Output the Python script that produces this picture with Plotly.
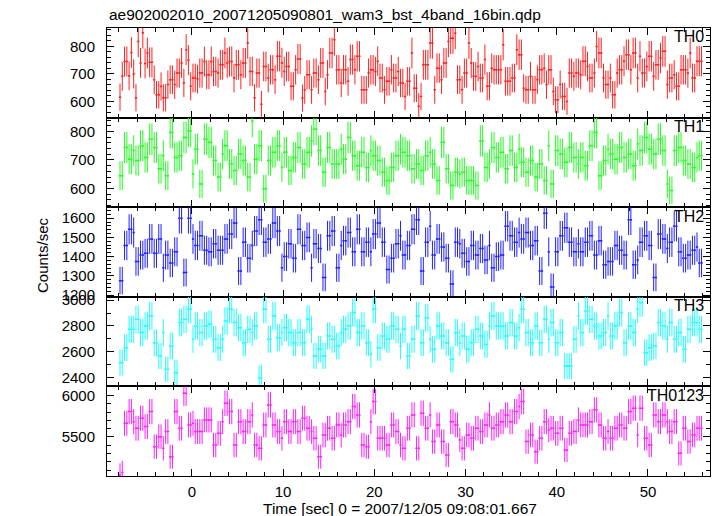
import numpy as np
import plotly.graph_objects as go

# ---------------- data ----------------
TITLE = "ae902002010_20071205090801_wam3_bst_4band_16bin.qdp"
X_TITLE = "Time [sec] 0 = 2007/12/05 09:08:01.667"
Y_TITLE = "Counts/sec"
TIME_START = -7.875     # centre of first bin [s]
BIN_WIDTH = 0.25        # bin width [s]

PANEL_NAMES = ["TH0", "TH1", "TH2", "TH3", "TH0123"]

th0 = [615, 691, 745, 745, 693, 778, 700, 613, 818, 740, 850, 738, 776, 742, 742, 679, 624, 624, 654, 613,
       613, 661, 679, 679, 661, 703, 703, 740, 667, 788, 750, 655, 685, 685, 681, 703, 703, 745, 697, 697,
       745, 709, 709, 703, 733, 733, 776, 740, 745, 745, 685, 733, 733, 697, 740, 740, 812, 709, 709, 613,
       703, 703, 590, 727, 727, 685, 715, 715, 679, 764, 764, 740, 709, 727, 727, 655, 655, 715,
       754, 754, 612, 642, 697, 697, 642, 703, 703, 679, 740, 740, 636, 697, 776, 776, 824, 715, 715, 667,
       715, 715, 673, 752, 752, 715, 764, 764, 642, 642, 642, 703, 715, 715, 709, 746, 685, 685, 642, 673,
       673, 715, 685, 685, 709, 667, 667, 618, 673, 673, 776, 648, 648, 582, 618, 733, 733, 733, 812, 812,
       642, 721, 721, 679, 740, 740, 818, 830, 830, 848, 679, 679, 642, 703, 703, 812, 740, 691, 691, 727,
       685, 685, 752, 655, 655, 721, 715, 715,
       715, 715, 806, 673, 673, 673, 685, 685, 788, 770, 770, 648, 642, 642, 691, 642, 642, 679, 715, 715,
       721, 661, 715, 715, 636, 606, 606, 661, 618, 618, 600, 703, 703, 691, 703, 703, 697, 746, 746, 727,
       685, 685, 703, 800, 776, 776, 685, 661, 661, 685, 624, 624, 703, 715, 715, 746, 770, 770, 715, 776,
       776, 685, 764, 703, 703, 727, 764, 764, 691, 733, 733, 758, 782, 782, 661, 685, 685, 697, 655, 655,
       715, 715, 715, 703, 776, 685, 685, 746, 746, 746]

th1 = [645, 645, 744, 744, 703, 703, 733, 698, 698, 750, 750, 709, 709, 773, 773, 744, 744, 669, 669, 715,
       645, 645, 797, 797, 709, 709, 715, 715, 779, 779, 802, 802, 651, 738, 738, 616, 616, 773, 773, 762, 762, 698, 698, 640, 640, 721,
       750, 750, 686, 686, 663, 663, 721, 721, 698, 698, 640, 640, 837, 703, 703, 750, 750, 599, 599, 698, 698, 727, 727, 750, 750, 674,
       727, 727, 663, 663, 709, 709, 744, 744, 686, 686, 727, 727, 767, 808, 808, 733, 733, 657, 657, 744, 744, 686, 686, 686, 686, 738,
       703, 703, 779, 779, 715, 715, 680, 680, 727, 727, 674, 674, 733, 715, 715, 698, 698, 657, 657, 628, 628, 674, 674, 715, 715, 738,
       727, 727, 715, 715, 669, 669, 686, 686, 663, 663, 715, 715, 727, 686, 686, 628, 628, 762, 762, 669, 669, 610, 610, 657, 657, 651,
       657, 657, 628, 628, 628, 628, 610, 610, 767, 767, 674, 674, 686, 744, 744, 709, 709, 727, 727, 669, 669, 733, 733, 674, 674, 738,
       692, 692, 657, 657, 698, 698, 640, 640, 686, 686, 628, 628, 750, 616, 616, 733, 733, 721, 721, 692, 692, 744, 744, 709, 709, 686,
       709, 709, 680, 680, 750, 750, 797, 797, 645, 645, 698, 698, 738, 721, 721, 703, 703, 744, 744, 709, 709, 721, 721, 680, 680, 756,
       733, 733, 779, 779, 738, 738, 721, 721, 773, 773, 733, 733, 616, 593, 593, 733, 733, 744, 744, 698, 698, 686, 686, 674, 674, 709,
       715, 715]

th2 = [1275, 1275, 1458, 1458, 1542, 1542, 1525, 1375, 1375, 1408, 1408, 1417, 1417, 1492, 1492, 1417, 1417, 1492, 1492, 1342,
       1408, 1408, 1367, 1367, 1425, 1425, 1600, 1600, 1317, 1317, 1600, 1600, 1492, 1458, 1458, 1508, 1508, 1433, 1433, 1425, 1425, 1467, 1467, 1433, 1433, 1433,
       1492, 1492, 1517, 1517, 1575, 1575, 1325, 1325, 1475, 1475, 1392, 1392, 1458, 1533, 1533, 1592, 1592, 1475, 1475, 1492, 1492, 1575, 1575, 1533, 1533, 1342,
       1400, 1400, 1467, 1467, 1392, 1392, 1542, 1542, 1458, 1458, 1500, 1500, 1342, 1467, 1467, 1442, 1442, 1292, 1292, 1508, 1508, 1533, 1533, 1342, 1342, 1458,
       1483, 1483, 1525, 1525, 1425, 1425, 1542, 1542, 1425, 1425, 1475, 1475, 1425, 1517, 1517, 1575, 1575, 1475, 1475, 1333, 1333, 1392, 1392, 1467, 1467, 1508,
       1408, 1408, 1458, 1458, 1542, 1542, 1592, 1592, 1325, 1325, 1475, 1475, 1558, 1408, 1408, 1492, 1492, 1450, 1450, 1392, 1392, 1258, 1258, 1475, 1475, 1467,
       1417, 1417, 1375, 1375, 1458, 1458, 1408, 1408, 1442, 1442, 1383, 1383, 1458, 1342, 1342, 1400, 1400, 1408, 1408, 1558, 1558, 1508, 1508, 1475, 1475, 1525,
       1492, 1492, 1525, 1525, 1458, 1458, 1483, 1483, 1325, 1325, 1625, 1625, 1425, 1242, 1242, 1425, 1425, 1508, 1508, 1550, 1550, 1475, 1475, 1425, 1425, 1467,
       1425, 1425, 1475, 1475, 1508, 1508, 1408, 1408, 1483, 1483, 1358, 1358, 1375, 1375, 1375, 1458, 1458, 1433, 1433, 1408, 1408, 1592, 1592, 1358, 1358, 1383,
       1475, 1475, 1508, 1508, 1458, 1458, 1292, 1292, 1517, 1517, 1492, 1492, 1442, 1475, 1475, 1558, 1558, 1425, 1425, 1392, 1392, 1408, 1408, 1433, 1433, 1450,
       1367, 1367]

th3 = [2517, 2517, 2633, 2633, 2774, 2774, 2774, 2851, 2851, 2749, 2749, 2800, 2800, 2877, 2877, 2671, 2671, 2569, 2569, 2749,
       2466, 2466, 2646, 2646, 2440, 2440, 2826, 2826, 2851, 2851, 2929, 2929, 2697, 2800, 2800, 2749, 2749, 2800, 2800, 2813, 2813, 2697, 2697, 2633, 2633, 2697,
       2839, 2839, 2929, 2929, 2826, 2826, 2787, 2787, 2671, 2671, 2774, 2774, 2749, 2800, 2800, 2400, 2400, 2929, 2929, 2697, 2697, 2877, 2877, 2710, 2710, 2749,
       2787, 2787, 2749, 2749, 2671, 2671, 2749, 2749, 2671, 2671, 2851, 2851, 2774, 2569, 2569, 2620, 2620, 2569, 2569, 2723, 2723, 2697, 2697, 2646, 2646, 2749,
       2774, 2774, 2800, 2800, 2903, 2903, 2749, 2749, 2800, 2800, 2671, 2671, 2581, 2929, 2929, 2633, 2633, 2723, 2723, 2697, 2697, 2800, 2800, 2774, 2774, 2646,
       2774, 2774, 2569, 2569, 2697, 2697, 2877, 2877, 2671, 2671, 2864, 2864, 2697, 2620, 2620, 2800, 2800, 2723, 2723, 2671, 2671, 2543, 2543, 2749, 2749, 2671,
       2723, 2723, 2620, 2620, 2671, 2671, 2774, 2774, 2723, 2723, 2658, 2658, 2800, 2877, 2877, 2800, 2800, 2800, 2800, 2723, 2723, 2826, 2826, 2723, 2723, 2787,
       2929, 2929, 2749, 2749, 2671, 2671, 2800, 2800, 2671, 2671, 2851, 2851, 2697, 2826, 2826, 2671, 2671, 2749, 2749, 2491, 2491, 2491, 2491, 2697, 2697, 2877,
       2749, 2749, 2916, 2916, 2851, 2851, 2800, 2800, 2723, 2723, 2749, 2749, 2877, 2723, 2723, 2800, 2800, 2903, 2903, 2671, 2671, 2800, 2800, 2749, 2749, 2929,
       2980, 2980, 2594, 2594, 2633, 2633, 2646, 2646, 2826, 2826, 2800, 2800, 2697, 2826, 2826, 2697, 2697, 2749, 2749, 2620, 2620, 2774, 2774, 2826, 2826, 2826,
       2774, 2774]

th0123 = [5040, 5070, 5665, 5665, 5806, 5806, 5685, 5605, 5605, 5726, 5726, 5625, 5625, 5806, 5806, 5383, 5383, 5504, 5504, 5363,
          5565, 5565, 5262, 5262, 5806, 5806, 5605, 5605, 6028, 6028, 5645, 5645, 5665, 5565, 5565, 5565, 5565, 5706, 5706, 5706, 5706, 5403, 5403, 5544, 5544, 5685,
          5907, 5907, 5806, 5806, 5403, 5403, 5685, 5685, 5565, 5565, 5685, 5685, 5766, 5403, 5403, 5363, 5363, 5645, 5645, 5887, 5887, 5645, 5645, 5565, 5565, 5484,
          5685, 5685, 5565, 5565, 5685, 5685, 5565, 5565, 5726, 5726, 5605, 5605, 5565, 5484, 5484, 5262, 5262, 5524, 5524, 5605, 5605, 5484, 5484, 5645, 5645, 5524,
          5645, 5645, 5685, 5685, 5867, 5867, 5766, 5766, 5403, 5403, 5383, 5383, 5685, 5927, 5927, 5484, 5484, 5484, 5484, 5403, 5403, 5645, 5645, 5565, 5565, 5403,
          5363, 5363, 5605, 5605, 5766, 5766, 5363, 5363, 5786, 5786, 5605, 5605, 5766, 5444, 5444, 5645, 5645, 5444, 5444, 5282, 5282, 5685, 5685, 5645, 5645, 5464,
          5363, 5363, 5524, 5524, 5484, 5484, 5605, 5605, 5565, 5565, 5645, 5645, 5766, 5605, 5605, 5645, 5645, 5685, 5685, 5766, 5766, 5685, 5685, 5806, 5806, 5867,
          5927, 5927, 5444, 5444, 5524, 5524, 5323, 5323, 5484, 5484, 5685, 5685, 5585, 5605, 5605, 5544, 5544, 5605, 5605, 5343, 5343, 5544, 5544, 5565, 5565, 5706,
          5645, 5645, 5645, 5645, 5685, 5685, 5827, 5827, 5645, 5645, 5484, 5484, 5565, 5484, 5484, 5605, 5605, 5645, 5645, 5605, 5605, 5806, 5806, 5847, 5847, 5524,
          5847, 5847, 5484, 5484, 5403, 5403, 5766, 5766, 5685, 5685, 5766, 5766, 5685, 5565, 5565, 5685, 5685, 5302, 5302, 5605, 5605, 5444, 5444, 5524, 5524, 5605,
          5605, 5605]

SERIES = [th0, th1, th2, th3, th0123]
COLORS = ["#ff2020", "#20ff20", "#2020ff", "#20ffff", "#ff20ff"]

# axis settings
X_RANGE = [-9.3, 56.8]
Y_RANGES = [[541, 867], [534, 849], [1191, 1657], [2334, 3025], [5029, 6110]]
Y_DTICK = [100, 100, 100, 200, 500]
Y_MINOR = [20, 20, 20, 100, 100]

# ---------------- figure ----------------
FONT = "Liberation Sans, Arial, Helvetica, sans-serif"
W, H = 717, 516
ML, MR, MT, MB = 107, 7, 28, 40
PW, PH = W - ML - MR, H - MT - MB

fig = go.Figure()
n_p = len(SERIES)
for k, (vals, col) in enumerate(zip(SERIES, COLORS)):
    v = np.asarray(vals, dtype=float)
    t = TIME_START + BIN_WIDTH * np.arange(len(v))
    err = np.sqrt(v * BIN_WIDTH) / BIN_WIDTH  # Poisson error of the rate
    suffix = "" if k == 0 else str(k + 1)
    fig.add_trace(go.Scatter(
        x=t, y=v, mode="markers",
        marker=dict(size=1, color=col),
        error_x=dict(type="constant", value=BIN_WIDTH / 2, width=0, thickness=1.5, color=col),
        error_y=dict(type="data", array=err, width=0, thickness=1, color=col),
        xaxis="x" + suffix, yaxis="y" + suffix, showlegend=False, hoverinfo="skip"))

axis_common = dict(showline=True, linecolor="black", linewidth=1, mirror="allticks",
                   ticks="inside", tickcolor="black", showgrid=False, zeroline=False,
                   tickfont=dict(family=FONT, size=15, color="black"))

layout = dict(width=W, height=H, margin=dict(l=ML, r=MR, t=MT, b=MB),
              paper_bgcolor="white", plot_bgcolor="white", showlegend=False,
              font=dict(family=FONT, size=15, color="black"))

for k in range(n_p):
    suffix = "" if k == 0 else str(k + 1)
    top = 1 - k / n_p
    bot = 1 - (k + 1) / n_p
    layout["xaxis" + suffix] = dict(
        axis_common, domain=[0, 1], anchor="y" + suffix, range=X_RANGE,
        dtick=10, tick0=0, ticklen=7,
        minor=dict(dtick=2, ticks="inside", ticklen=4, tickcolor="black", showgrid=False),
        showticklabels=(k == n_p - 1), ticklabelstandoff=2,
        **({} if k == 0 else dict(matches="x")))
    layout["yaxis" + suffix] = dict(
        axis_common, domain=[bot, top], anchor="x" + suffix, range=Y_RANGES[k],
        dtick=Y_DTICK[k], tick0=0, ticklen=7,
        minor=dict(dtick=Y_MINOR[k], ticks="inside", ticklen=4, tickcolor="black", showgrid=False),
        ticklabelstandoff=8)

fig.update_layout(**layout)

ann = []
ann.append(dict(text=TITLE, xref="paper", yref="paper", x=0, y=1 + 13 / PH,
                xanchor="left", yanchor="middle", showarrow=False,
                font=dict(family=FONT, size=15.5, color="black")))
ann.append(dict(text=Y_TITLE, xref="paper", yref="paper", x=(42 - ML) / PW, y=(H - MB - 255) / PH,
                xanchor="center", yanchor="middle", textangle=-90, showarrow=False,
                font=dict(family=FONT, size=15, color="black")))
ann.append(dict(text=X_TITLE, xref="paper", yref="paper", x=(400 - ML) / PW, y=-(509 - (H - MB)) / PH,
                xanchor="center", yanchor="middle", showarrow=False,
                font=dict(family=FONT, size=15.5, color="black")))
for k, name in enumerate(PANEL_NAMES):
    top = 1 - k / n_p
    ann.append(dict(text=name, xref="paper", yref="paper", x=(706 - ML) / PW, y=top - 9 / PH,
                    xanchor="right", yanchor="middle", showarrow=False,
                    font=dict(family=FONT, size=16, color="black")))
fig.update_layout(annotations=ann)

fig.write_html("out.html", config={"displayModeBar": False},
               post_script="document.body.style.margin='0px';document.body.style.padding='0px';")
